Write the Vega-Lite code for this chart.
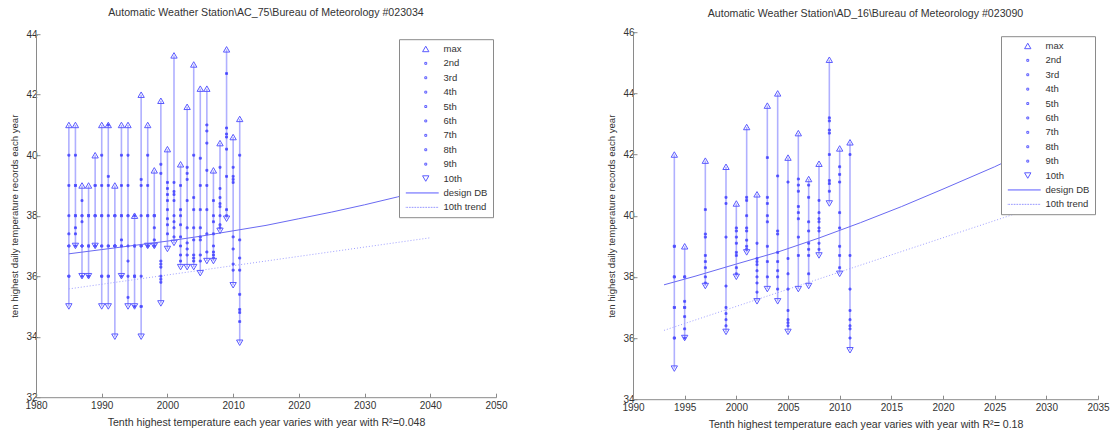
{
  "$schema": "https://vega.github.io/schema/vega-lite/v6.json",
  "padding": {"left": 9, "top": 7, "right": 0, "bottom": 0},
  "background": "white",
  "config": {
    "font": "Liberation Sans",
    "view": {"stroke": null},
    "axis": {"grid": false, "domainColor": "#8a8a8a", "tickColor": "#8a8a8a", "tickSize": -4, "labelFont": "Liberation Sans", "labelFontSize": 10, "labelColor": "#333333", "titleFont": "Liberation Sans", "titleFontSize": 10, "titleFontWeight": "normal", "titleColor": "#333333", "labelPadding": 3},
    "axisX": {"labelFlush": false, "labelPadding": 7, "titlePadding": 7, "titleFontSize": 10.6},
    "axisY": {"titlePadding": 6, "titleFontSize": 9.6},
    "title": {"font": "Liberation Sans", "fontSize": 10.6, "fontWeight": "normal", "color": "#333333"},
    "legend": {"fillColor": "white", "strokeColor": "#8a8a8a", "padding": 5, "labelFont": "Liberation Sans", "labelFontSize": 9.5, "labelColor": "#333333", "symbolStrokeWidth": 1, "symbolStrokeColor": "#5a5aff", "symbolSize": 40, "rowPadding": 3.4, "labelOffset": 13, "symbolOffset": 17}
  },
  "resolve": {"scale": {"shape": "independent"}, "legend": {"shape": "independent"}},
  "spacing": 98,
  "center": true,
  "datasets": {
    "left": [
      {"year":1985,"rank":"max","temp":41},{"year":1985,"rank":"2nd","temp":40},{"year":1985,"rank":"3rd","temp":39},{"year":1985,"rank":"4th","temp":38},{"year":1985,"rank":"5th","temp":37.4},{"year":1985,"rank":"6th","temp":37},{"year":1985,"rank":"7th","temp":37},{"year":1985,"rank":"8th","temp":36},{"year":1985,"rank":"9th","temp":36},{"year":1985,"rank":"10th","temp":35},
      {"year":1986,"rank":"max","temp":41},{"year":1986,"rank":"2nd","temp":40},{"year":1986,"rank":"3rd","temp":39},{"year":1986,"rank":"4th","temp":39},{"year":1986,"rank":"5th","temp":38},{"year":1986,"rank":"6th","temp":38},{"year":1986,"rank":"7th","temp":37.6},{"year":1986,"rank":"8th","temp":37.4},{"year":1986,"rank":"9th","temp":37},{"year":1986,"rank":"10th","temp":37},
      {"year":1987,"rank":"max","temp":39},{"year":1987,"rank":"2nd","temp":38.5},{"year":1987,"rank":"3rd","temp":38},{"year":1987,"rank":"4th","temp":38},{"year":1987,"rank":"5th","temp":37.8},{"year":1987,"rank":"6th","temp":37},{"year":1987,"rank":"7th","temp":37},{"year":1987,"rank":"8th","temp":37},{"year":1987,"rank":"9th","temp":36},{"year":1987,"rank":"10th","temp":36},
      {"year":1988,"rank":"max","temp":39},{"year":1988,"rank":"2nd","temp":38},{"year":1988,"rank":"3rd","temp":38},{"year":1988,"rank":"4th","temp":38},{"year":1988,"rank":"5th","temp":37},{"year":1988,"rank":"6th","temp":37},{"year":1988,"rank":"7th","temp":37},{"year":1988,"rank":"8th","temp":36},{"year":1988,"rank":"9th","temp":36},{"year":1988,"rank":"10th","temp":36},
      {"year":1989,"rank":"max","temp":40},{"year":1989,"rank":"2nd","temp":39},{"year":1989,"rank":"3rd","temp":39},{"year":1989,"rank":"4th","temp":38},{"year":1989,"rank":"5th","temp":38},{"year":1989,"rank":"6th","temp":38},{"year":1989,"rank":"7th","temp":37},{"year":1989,"rank":"8th","temp":37},{"year":1989,"rank":"9th","temp":37},{"year":1989,"rank":"10th","temp":37},
      {"year":1990,"rank":"max","temp":41},{"year":1990,"rank":"2nd","temp":40},{"year":1990,"rank":"3rd","temp":39},{"year":1990,"rank":"4th","temp":38},{"year":1990,"rank":"5th","temp":38},{"year":1990,"rank":"6th","temp":37},{"year":1990,"rank":"7th","temp":37},{"year":1990,"rank":"8th","temp":36},{"year":1990,"rank":"9th","temp":36},{"year":1990,"rank":"10th","temp":35},
      {"year":1991,"rank":"max","temp":41},{"year":1991,"rank":"2nd","temp":41},{"year":1991,"rank":"3rd","temp":39.3},{"year":1991,"rank":"4th","temp":39},{"year":1991,"rank":"5th","temp":38},{"year":1991,"rank":"6th","temp":37},{"year":1991,"rank":"7th","temp":37},{"year":1991,"rank":"8th","temp":36},{"year":1991,"rank":"9th","temp":36},{"year":1991,"rank":"10th","temp":35},
      {"year":1992,"rank":"max","temp":39},{"year":1992,"rank":"2nd","temp":38},{"year":1992,"rank":"3rd","temp":38},{"year":1992,"rank":"4th","temp":38},{"year":1992,"rank":"5th","temp":37},{"year":1992,"rank":"6th","temp":37},{"year":1992,"rank":"7th","temp":37},{"year":1992,"rank":"8th","temp":37},{"year":1992,"rank":"9th","temp":37},{"year":1992,"rank":"10th","temp":34},
      {"year":1993,"rank":"max","temp":41},{"year":1993,"rank":"2nd","temp":40},{"year":1993,"rank":"3rd","temp":39},{"year":1993,"rank":"4th","temp":38},{"year":1993,"rank":"5th","temp":38},{"year":1993,"rank":"6th","temp":37.2},{"year":1993,"rank":"7th","temp":37},{"year":1993,"rank":"8th","temp":37},{"year":1993,"rank":"9th","temp":36},{"year":1993,"rank":"10th","temp":36},
      {"year":1994,"rank":"max","temp":41},{"year":1994,"rank":"2nd","temp":40},{"year":1994,"rank":"3rd","temp":39},{"year":1994,"rank":"4th","temp":38},{"year":1994,"rank":"5th","temp":38},{"year":1994,"rank":"6th","temp":37},{"year":1994,"rank":"7th","temp":36.5},{"year":1994,"rank":"8th","temp":36},{"year":1994,"rank":"9th","temp":35.3},{"year":1994,"rank":"10th","temp":35},
      {"year":1995,"rank":"max","temp":38},{"year":1995,"rank":"2nd","temp":38},{"year":1995,"rank":"3rd","temp":37},{"year":1995,"rank":"4th","temp":37},{"year":1995,"rank":"5th","temp":37},{"year":1995,"rank":"6th","temp":36},{"year":1995,"rank":"7th","temp":36},{"year":1995,"rank":"8th","temp":36},{"year":1995,"rank":"9th","temp":35},{"year":1995,"rank":"10th","temp":35},
      {"year":1996,"rank":"max","temp":42},{"year":1996,"rank":"2nd","temp":39.2},{"year":1996,"rank":"3rd","temp":39},{"year":1996,"rank":"4th","temp":38},{"year":1996,"rank":"5th","temp":37},{"year":1996,"rank":"6th","temp":37},{"year":1996,"rank":"7th","temp":36},{"year":1996,"rank":"8th","temp":35},{"year":1996,"rank":"9th","temp":35},{"year":1996,"rank":"10th","temp":34},
      {"year":1997,"rank":"max","temp":41},{"year":1997,"rank":"2nd","temp":40},{"year":1997,"rank":"3rd","temp":39},{"year":1997,"rank":"4th","temp":38},{"year":1997,"rank":"5th","temp":38},{"year":1997,"rank":"6th","temp":37},{"year":1997,"rank":"7th","temp":37},{"year":1997,"rank":"8th","temp":37},{"year":1997,"rank":"9th","temp":37},{"year":1997,"rank":"10th","temp":37},
      {"year":1998,"rank":"max","temp":39.5},{"year":1998,"rank":"2nd","temp":38},{"year":1998,"rank":"3rd","temp":38},{"year":1998,"rank":"4th","temp":38},{"year":1998,"rank":"5th","temp":37.6},{"year":1998,"rank":"6th","temp":37.2},{"year":1998,"rank":"7th","temp":37},{"year":1998,"rank":"8th","temp":37},{"year":1998,"rank":"9th","temp":37},{"year":1998,"rank":"10th","temp":37},
      {"year":1999,"rank":"max","temp":41.8},{"year":1999,"rank":"2nd","temp":39.7},{"year":1999,"rank":"3rd","temp":39.4},{"year":1999,"rank":"4th","temp":36.5},{"year":1999,"rank":"5th","temp":36.4},{"year":1999,"rank":"6th","temp":36.3},{"year":1999,"rank":"7th","temp":36.0},{"year":1999,"rank":"8th","temp":35.9},{"year":1999,"rank":"9th","temp":35.8},{"year":1999,"rank":"10th","temp":35.1},
      {"year":2000,"rank":"max","temp":40.2},{"year":2000,"rank":"2nd","temp":39.1},{"year":2000,"rank":"3rd","temp":38.9},{"year":2000,"rank":"4th","temp":38.7},{"year":2000,"rank":"5th","temp":38.5},{"year":2000,"rank":"6th","temp":38.2},{"year":2000,"rank":"7th","temp":37.9},{"year":2000,"rank":"8th","temp":37.7},{"year":2000,"rank":"9th","temp":37.4},{"year":2000,"rank":"10th","temp":36.9},
      {"year":2001,"rank":"max","temp":43.3},{"year":2001,"rank":"2nd","temp":39.1},{"year":2001,"rank":"3rd","temp":38.8},{"year":2001,"rank":"4th","temp":38.7},{"year":2001,"rank":"5th","temp":38.5},{"year":2001,"rank":"6th","temp":38.0},{"year":2001,"rank":"7th","temp":37.8},{"year":2001,"rank":"8th","temp":37.6},{"year":2001,"rank":"9th","temp":37.3},{"year":2001,"rank":"10th","temp":37.1},
      {"year":2002,"rank":"max","temp":39.7},{"year":2002,"rank":"2nd","temp":39.0},{"year":2002,"rank":"3rd","temp":38.2},{"year":2002,"rank":"4th","temp":38.0},{"year":2002,"rank":"5th","temp":37.7},{"year":2002,"rank":"6th","temp":37.3},{"year":2002,"rank":"7th","temp":37.0},{"year":2002,"rank":"8th","temp":36.7},{"year":2002,"rank":"9th","temp":36.5},{"year":2002,"rank":"10th","temp":36.3},
      {"year":2003,"rank":"max","temp":41.6},{"year":2003,"rank":"2nd","temp":39.6},{"year":2003,"rank":"3rd","temp":39.4},{"year":2003,"rank":"4th","temp":39.2},{"year":2003,"rank":"5th","temp":38.5},{"year":2003,"rank":"6th","temp":37.6},{"year":2003,"rank":"7th","temp":37.1},{"year":2003,"rank":"8th","temp":36.9},{"year":2003,"rank":"9th","temp":36.7},{"year":2003,"rank":"10th","temp":36.3},
      {"year":2004,"rank":"max","temp":43.0},{"year":2004,"rank":"2nd","temp":40.0},{"year":2004,"rank":"3rd","temp":38.6},{"year":2004,"rank":"4th","temp":38.2},{"year":2004,"rank":"5th","temp":37.6},{"year":2004,"rank":"6th","temp":37.2},{"year":2004,"rank":"7th","temp":36.7},{"year":2004,"rank":"8th","temp":36.6},{"year":2004,"rank":"9th","temp":36.5},{"year":2004,"rank":"10th","temp":36.3},
      {"year":2005,"rank":"max","temp":42.2},{"year":2005,"rank":"2nd","temp":39.9},{"year":2005,"rank":"3rd","temp":39.0},{"year":2005,"rank":"4th","temp":38.2},{"year":2005,"rank":"5th","temp":37.6},{"year":2005,"rank":"6th","temp":37.3},{"year":2005,"rank":"7th","temp":37.2},{"year":2005,"rank":"8th","temp":36.7},{"year":2005,"rank":"9th","temp":36.5},{"year":2005,"rank":"10th","temp":36.1},
      {"year":2006,"rank":"max","temp":42.2},{"year":2006,"rank":"2nd","temp":41.0},{"year":2006,"rank":"3rd","temp":40.8},{"year":2006,"rank":"4th","temp":40.4},{"year":2006,"rank":"5th","temp":39.5},{"year":2006,"rank":"6th","temp":39.0},{"year":2006,"rank":"7th","temp":38.2},{"year":2006,"rank":"8th","temp":37.4},{"year":2006,"rank":"9th","temp":36.8},{"year":2006,"rank":"10th","temp":36.5},
      {"year":2007,"rank":"max","temp":39.5},{"year":2007,"rank":"2nd","temp":38.5},{"year":2007,"rank":"3rd","temp":38.0},{"year":2007,"rank":"4th","temp":37.8},{"year":2007,"rank":"5th","temp":37.4},{"year":2007,"rank":"6th","temp":37.0},{"year":2007,"rank":"7th","temp":36.8},{"year":2007,"rank":"8th","temp":36.7},{"year":2007,"rank":"9th","temp":36.6},{"year":2007,"rank":"10th","temp":36.5},
      {"year":2008,"rank":"max","temp":40.4},{"year":2008,"rank":"2nd","temp":39.6},{"year":2008,"rank":"3rd","temp":38.9},{"year":2008,"rank":"4th","temp":38.6},{"year":2008,"rank":"5th","temp":38.4},{"year":2008,"rank":"6th","temp":38.3},{"year":2008,"rank":"7th","temp":38.0},{"year":2008,"rank":"8th","temp":37.7},{"year":2008,"rank":"9th","temp":37.6},{"year":2008,"rank":"10th","temp":37.5},
      {"year":2009,"rank":"max","temp":43.5},{"year":2009,"rank":"2nd","temp":42.7},{"year":2009,"rank":"3rd","temp":40.9},{"year":2009,"rank":"4th","temp":40.7},{"year":2009,"rank":"5th","temp":40.6},{"year":2009,"rank":"6th","temp":40.2},{"year":2009,"rank":"7th","temp":39.3},{"year":2009,"rank":"8th","temp":38.2},{"year":2009,"rank":"9th","temp":38.0},{"year":2009,"rank":"10th","temp":37.9},
      {"year":2010,"rank":"max","temp":40.6},{"year":2010,"rank":"2nd","temp":39.6},{"year":2010,"rank":"3rd","temp":39.3},{"year":2010,"rank":"4th","temp":39.2},{"year":2010,"rank":"5th","temp":39.1},{"year":2010,"rank":"6th","temp":37.3},{"year":2010,"rank":"7th","temp":36.9},{"year":2010,"rank":"8th","temp":36.4},{"year":2010,"rank":"9th","temp":36.2},{"year":2010,"rank":"10th","temp":35.7},
      {"year":2011,"rank":"max","temp":41.2},{"year":2011,"rank":"2nd","temp":40.0},{"year":2011,"rank":"3rd","temp":37.2},{"year":2011,"rank":"4th","temp":36.6},{"year":2011,"rank":"5th","temp":36.2},{"year":2011,"rank":"6th","temp":35.4},{"year":2011,"rank":"7th","temp":34.9},{"year":2011,"rank":"8th","temp":34.8},{"year":2011,"rank":"9th","temp":34.5},{"year":2011,"rank":"10th","temp":33.8}
    ],
    "right": [
      {"year":1994,"rank":"max","temp":42},{"year":1994,"rank":"2nd","temp":39},{"year":1994,"rank":"3rd","temp":39},{"year":1994,"rank":"4th","temp":38},{"year":1994,"rank":"5th","temp":38},{"year":1994,"rank":"6th","temp":37},{"year":1994,"rank":"7th","temp":37},{"year":1994,"rank":"8th","temp":36},{"year":1994,"rank":"9th","temp":36},{"year":1994,"rank":"10th","temp":35},
      {"year":1995,"rank":"max","temp":39},{"year":1995,"rank":"2nd","temp":38},{"year":1995,"rank":"3rd","temp":38},{"year":1995,"rank":"4th","temp":37.2},{"year":1995,"rank":"5th","temp":37},{"year":1995,"rank":"6th","temp":37},{"year":1995,"rank":"7th","temp":36.7},{"year":1995,"rank":"8th","temp":36.3},{"year":1995,"rank":"9th","temp":36},{"year":1995,"rank":"10th","temp":36},
      {"year":1997,"rank":"max","temp":41.8},{"year":1997,"rank":"2nd","temp":40.2},{"year":1997,"rank":"3rd","temp":39.4},{"year":1997,"rank":"4th","temp":39.3},{"year":1997,"rank":"5th","temp":38.7},{"year":1997,"rank":"6th","temp":38.5},{"year":1997,"rank":"7th","temp":38.3},{"year":1997,"rank":"8th","temp":38.0},{"year":1997,"rank":"9th","temp":37.8},{"year":1997,"rank":"10th","temp":37.7},
      {"year":1999,"rank":"max","temp":41.6},{"year":1999,"rank":"2nd","temp":40.6},{"year":1999,"rank":"3rd","temp":40.4},{"year":1999,"rank":"4th","temp":39.3},{"year":1999,"rank":"5th","temp":37.7},{"year":1999,"rank":"6th","temp":37.0},{"year":1999,"rank":"7th","temp":36.8},{"year":1999,"rank":"8th","temp":36.6},{"year":1999,"rank":"9th","temp":36.4},{"year":1999,"rank":"10th","temp":36.2},
      {"year":2000,"rank":"max","temp":40.4},{"year":2000,"rank":"2nd","temp":39.6},{"year":2000,"rank":"3rd","temp":39.5},{"year":2000,"rank":"4th","temp":39.3},{"year":2000,"rank":"5th","temp":39.1},{"year":2000,"rank":"6th","temp":38.8},{"year":2000,"rank":"7th","temp":38.7},{"year":2000,"rank":"8th","temp":38.3},{"year":2000,"rank":"9th","temp":38.1},{"year":2000,"rank":"10th","temp":38.0},
      {"year":2001,"rank":"max","temp":42.9},{"year":2001,"rank":"2nd","temp":40.6},{"year":2001,"rank":"3rd","temp":40.5},{"year":2001,"rank":"4th","temp":40.0},{"year":2001,"rank":"5th","temp":39.6},{"year":2001,"rank":"6th","temp":39.5},{"year":2001,"rank":"7th","temp":39.2},{"year":2001,"rank":"8th","temp":39.0},{"year":2001,"rank":"9th","temp":38.9},{"year":2001,"rank":"10th","temp":38.8},
      {"year":2002,"rank":"max","temp":40.7},{"year":2002,"rank":"2nd","temp":39.1},{"year":2002,"rank":"3rd","temp":38.6},{"year":2002,"rank":"4th","temp":38.5},{"year":2002,"rank":"5th","temp":38.4},{"year":2002,"rank":"6th","temp":38.2},{"year":2002,"rank":"7th","temp":38.0},{"year":2002,"rank":"8th","temp":37.8},{"year":2002,"rank":"9th","temp":37.5},{"year":2002,"rank":"10th","temp":37.2},
      {"year":2003,"rank":"max","temp":43.6},{"year":2003,"rank":"2nd","temp":41.9},{"year":2003,"rank":"3rd","temp":40.6},{"year":2003,"rank":"4th","temp":40.4},{"year":2003,"rank":"5th","temp":40.0},{"year":2003,"rank":"6th","temp":39.8},{"year":2003,"rank":"7th","temp":39.0},{"year":2003,"rank":"8th","temp":38.5},{"year":2003,"rank":"9th","temp":38.0},{"year":2003,"rank":"10th","temp":37.6},
      {"year":2004,"rank":"max","temp":44.0},{"year":2004,"rank":"2nd","temp":41.3},{"year":2004,"rank":"3rd","temp":39.5},{"year":2004,"rank":"4th","temp":39.4},{"year":2004,"rank":"5th","temp":38.8},{"year":2004,"rank":"6th","temp":38.5},{"year":2004,"rank":"7th","temp":38.2},{"year":2004,"rank":"8th","temp":38.0},{"year":2004,"rank":"9th","temp":37.6},{"year":2004,"rank":"10th","temp":37.2},
      {"year":2005,"rank":"max","temp":41.9},{"year":2005,"rank":"2nd","temp":41.1},{"year":2005,"rank":"3rd","temp":38.6},{"year":2005,"rank":"4th","temp":38.1},{"year":2005,"rank":"5th","temp":37.6},{"year":2005,"rank":"6th","temp":36.9},{"year":2005,"rank":"7th","temp":36.6},{"year":2005,"rank":"8th","temp":36.5},{"year":2005,"rank":"9th","temp":36.4},{"year":2005,"rank":"10th","temp":36.2},
      {"year":2006,"rank":"max","temp":42.7},{"year":2006,"rank":"2nd","temp":41.2},{"year":2006,"rank":"3rd","temp":41.0},{"year":2006,"rank":"4th","temp":40.8},{"year":2006,"rank":"5th","temp":40.3},{"year":2006,"rank":"6th","temp":40.1},{"year":2006,"rank":"7th","temp":39.9},{"year":2006,"rank":"8th","temp":39.3},{"year":2006,"rank":"9th","temp":38.7},{"year":2006,"rank":"10th","temp":37.6},
      {"year":2007,"rank":"max","temp":41.2},{"year":2007,"rank":"2nd","temp":41.0},{"year":2007,"rank":"3rd","temp":40.6},{"year":2007,"rank":"4th","temp":39.8},{"year":2007,"rank":"5th","temp":39.5},{"year":2007,"rank":"6th","temp":39.1},{"year":2007,"rank":"7th","temp":38.9},{"year":2007,"rank":"8th","temp":38.7},{"year":2007,"rank":"9th","temp":38.1},{"year":2007,"rank":"10th","temp":37.7},
      {"year":2008,"rank":"max","temp":41.7},{"year":2008,"rank":"2nd","temp":40.5},{"year":2008,"rank":"3rd","temp":40.1},{"year":2008,"rank":"4th","temp":39.9},{"year":2008,"rank":"5th","temp":39.8},{"year":2008,"rank":"6th","temp":39.6},{"year":2008,"rank":"7th","temp":39.5},{"year":2008,"rank":"8th","temp":39.1},{"year":2008,"rank":"9th","temp":38.9},{"year":2008,"rank":"10th","temp":38.7},
      {"year":2009,"rank":"max","temp":45.1},{"year":2009,"rank":"2nd","temp":43.2},{"year":2009,"rank":"3rd","temp":43.1},{"year":2009,"rank":"4th","temp":42.8},{"year":2009,"rank":"5th","temp":42.7},{"year":2009,"rank":"6th","temp":42.0},{"year":2009,"rank":"7th","temp":41.15},{"year":2009,"rank":"8th","temp":41.05},{"year":2009,"rank":"9th","temp":40.8},{"year":2009,"rank":"10th","temp":40.4},
      {"year":2010,"rank":"max","temp":42.2},{"year":2010,"rank":"2nd","temp":41.6},{"year":2010,"rank":"3rd","temp":41.35},{"year":2010,"rank":"4th","temp":41.1},{"year":2010,"rank":"5th","temp":40.1},{"year":2010,"rank":"6th","temp":39.6},{"year":2010,"rank":"7th","temp":39.0},{"year":2010,"rank":"8th","temp":38.7},{"year":2010,"rank":"9th","temp":38.3},{"year":2010,"rank":"10th","temp":38.1},
      {"year":2011,"rank":"max","temp":42.4},{"year":2011,"rank":"2nd","temp":42.0},{"year":2011,"rank":"3rd","temp":38.7},{"year":2011,"rank":"4th","temp":37.6},{"year":2011,"rank":"5th","temp":36.9},{"year":2011,"rank":"6th","temp":36.6},{"year":2011,"rank":"7th","temp":36.4},{"year":2011,"rank":"8th","temp":36.3},{"year":2011,"rank":"9th","temp":36.0},{"year":2011,"rank":"10th","temp":35.6}
    ],
    "leftLines": [
      {"series":"design DB","year":1985,"temp":36.74},{"series":"design DB","year":1990,"temp":36.88},{"series":"design DB","year":1995,"temp":37.02},{"series":"design DB","year":2000,"temp":37.16},{"series":"design DB","year":2005,"temp":37.32},{"series":"design DB","year":2010,"temp":37.5},{"series":"design DB","year":2015,"temp":37.68},{"series":"design DB","year":2020,"temp":37.9},{"series":"design DB","year":2025,"temp":38.12},{"series":"design DB","year":2030,"temp":38.36},{"series":"design DB","year":2035,"temp":38.62},{"series":"design DB","year":2040,"temp":38.9},
      {"series":"10th trend","year":1985,"temp":35.58},{"series":"10th trend","year":2040,"temp":37.27}
    ],
    "rightLines": [
      {"series":"design DB","year":1993,"temp":37.74},{"series":"design DB","year":1996,"temp":38.02},{"series":"design DB","year":2000,"temp":38.42},{"series":"design DB","year":2004,"temp":38.81},{"series":"design DB","year":2008,"temp":39.27},{"series":"design DB","year":2012,"temp":39.77},{"series":"design DB","year":2016,"temp":40.3},{"series":"design DB","year":2020,"temp":40.87},{"series":"design DB","year":2025,"temp":41.6},{"series":"design DB","year":2030,"temp":42.4},
      {"series":"10th trend","year":1993,"temp":36.25},{"series":"10th trend","year":2030,"temp":40.4}
    ]
  },
  "hconcat": [
    {
      "width": 460,
      "height": 363,
      "title": {"text": "Automatic Weather Station\\AC_75\\Bureau of Meteorology #023034", "offset": 11},
      "layer": [
        {
          "data": {"name": "left"},
          "mark": {"type": "rule", "color": "#b0b0ff", "strokeWidth": 1.6},
          "encoding": {
            "x": {"field": "year", "type": "quantitative", "scale": {"domain": [1980, 2050], "nice": false, "zero": false}, "axis": {"title": "Tenth highest temperature each year varies with year with R²=0.048", "values": [1980, 1990, 2000, 2010, 2020, 2030, 2040, 2050], "format": "d"}},
            "y": {"aggregate": "min", "field": "temp", "type": "quantitative", "scale": {"domain": [32, 44], "nice": false, "zero": false}, "axis": {"title": "ten highest daily temperature records each year", "values": [32, 34, 36, 38, 40, 42, 44]}},
            "y2": {"aggregate": "max", "field": "temp"}
          }
        },
        {
          "data": {"name": "leftLines"},
          "transform": [{"filter": "datum.series === 'design DB'"}],
          "mark": {"type": "line", "color": "#6a6af2", "strokeWidth": 1},
          "encoding": {
            "x": {"field": "year", "type": "quantitative", "scale": {"domain": [1980, 2050], "nice": false, "zero": false}, "axis": {"title": "Tenth highest temperature each year varies with year with R²=0.048", "values": [1980, 1990, 2000, 2010, 2020, 2030, 2040, 2050], "format": "d"}},
            "y": {"field": "temp", "type": "quantitative", "scale": {"domain": [32, 44], "nice": false, "zero": false}, "axis": {"title": "ten highest daily temperature records each year", "values": [32, 34, 36, 38, 40, 42, 44]}}
          }
        },
        {
          "data": {"name": "leftLines"},
          "transform": [{"filter": "datum.series === '10th trend'"}],
          "mark": {"type": "line", "color": "#a0a0ff", "strokeWidth": 1, "strokeDash": [1, 2]},
          "encoding": {
            "x": {"field": "year", "type": "quantitative", "scale": {"domain": [1980, 2050], "nice": false, "zero": false}, "axis": {"title": "Tenth highest temperature each year varies with year with R²=0.048", "values": [1980, 1990, 2000, 2010, 2020, 2030, 2040, 2050], "format": "d"}},
            "y": {"field": "temp", "type": "quantitative", "scale": {"domain": [32, 44], "nice": false, "zero": false}, "axis": {"title": "ten highest daily temperature records each year", "values": [32, 34, 36, 38, 40, 42, 44]}}
          }
        },
        {
          "data": {"name": "left"},
          "mark": {"type": "point", "filled": false, "color": "#5a5aff", "size": 40, "strokeWidth": 1, "opacity": 1},
          "encoding": {
            "x": {"field": "year", "type": "quantitative", "scale": {"domain": [1980, 2050], "nice": false, "zero": false}, "axis": {"title": "Tenth highest temperature each year varies with year with R²=0.048", "values": [1980, 1990, 2000, 2010, 2020, 2030, 2040, 2050], "format": "d"}},
            "y": {"field": "temp", "type": "quantitative", "scale": {"domain": [32, 44], "nice": false, "zero": false}, "axis": {"title": "ten highest daily temperature records each year", "values": [32, 34, 36, 38, 40, 42, 44]}},
            "fill": {"condition": {"test": "datum.rank !== 'max' && datum.rank !== '10th'", "value": "#3c3cff"}, "value": "transparent"},
            "shape": {
              "field": "rank", "type": "nominal",
              "scale": {
                "domain": ["max", "2nd", "3rd", "4th", "5th", "6th", "7th", "8th", "9th", "10th", "design DB", "10th trend"],
                "range": ["triangle-up", "M-0.3,-0.3H0.3V0.3H-0.3Z", "M-0.3,-0.3H0.3V0.3H-0.3Z", "M-0.3,-0.3H0.3V0.3H-0.3Z", "M-0.3,-0.3H0.3V0.3H-0.3Z", "M-0.3,-0.3H0.3V0.3H-0.3Z", "M-0.3,-0.3H0.3V0.3H-0.3Z", "M-0.3,-0.3H0.3V0.3H-0.3Z", "M-0.3,-0.3H0.3V0.3H-0.3Z", "triangle-down", "M-6.3,0H4.1", "M-6.3,0h0.2M-5.8,0h0.2M-5.3,0h0.2M-4.8,0h0.2M-4.3,0h0.2M-3.8,0h0.2M-3.3,0h0.2M-2.8,0h0.2M-2.3,0h0.2M-1.8,0h0.2M-1.3,0h0.2M-0.8,0h0.2M-0.3,0h0.2M0.2,0h0.2M0.7,0h0.2M1.2,0h0.2M1.7,0h0.2M2.2,0h0.2M2.7,0h0.2M3.2,0h0.2M3.7,0h0.2"]
              },
              "legend": {"title": null, "orient": "none", "legendX": 363, "legendY": 5, "encode": {"symbols": {"update": {"stroke": {"value": "#5a5aff"}, "fill": {"value": "transparent"}}}}}
            }
          }
        }
      ]
    },
    {
      "width": 465,
      "height": 367,
      "title": {"text": "Automatic Weather Station\\AD_16\\Bureau of Meteorology #023090", "offset": 8},
      "layer": [
        {
          "data": {"name": "right"},
          "mark": {"type": "rule", "color": "#b0b0ff", "strokeWidth": 1.6},
          "encoding": {
            "x": {"field": "year", "type": "quantitative", "scale": {"domain": [1990, 2035], "nice": false, "zero": false}, "axis": {"title": "Tenth highest temperature each year varies with year with R²= 0.18", "values": [1990, 1995, 2000, 2005, 2010, 2015, 2020, 2025, 2030, 2035], "format": "d"}},
            "y": {"aggregate": "min", "field": "temp", "type": "quantitative", "scale": {"domain": [34, 46], "nice": false, "zero": false}, "axis": {"title": "ten highest daily temperature records each year", "values": [34, 36, 38, 40, 42, 44, 46]}},
            "y2": {"aggregate": "max", "field": "temp"}
          }
        },
        {
          "data": {"name": "rightLines"},
          "transform": [{"filter": "datum.series === 'design DB'"}],
          "mark": {"type": "line", "color": "#6a6af2", "strokeWidth": 1},
          "encoding": {
            "x": {"field": "year", "type": "quantitative", "scale": {"domain": [1990, 2035], "nice": false, "zero": false}, "axis": {"title": "Tenth highest temperature each year varies with year with R²= 0.18", "values": [1990, 1995, 2000, 2005, 2010, 2015, 2020, 2025, 2030, 2035], "format": "d"}},
            "y": {"field": "temp", "type": "quantitative", "scale": {"domain": [34, 46], "nice": false, "zero": false}, "axis": {"title": "ten highest daily temperature records each year", "values": [34, 36, 38, 40, 42, 44, 46]}}
          }
        },
        {
          "data": {"name": "rightLines"},
          "transform": [{"filter": "datum.series === '10th trend'"}],
          "mark": {"type": "line", "color": "#a0a0ff", "strokeWidth": 1, "strokeDash": [1, 2]},
          "encoding": {
            "x": {"field": "year", "type": "quantitative", "scale": {"domain": [1990, 2035], "nice": false, "zero": false}, "axis": {"title": "Tenth highest temperature each year varies with year with R²= 0.18", "values": [1990, 1995, 2000, 2005, 2010, 2015, 2020, 2025, 2030, 2035], "format": "d"}},
            "y": {"field": "temp", "type": "quantitative", "scale": {"domain": [34, 46], "nice": false, "zero": false}, "axis": {"title": "ten highest daily temperature records each year", "values": [34, 36, 38, 40, 42, 44, 46]}}
          }
        },
        {
          "data": {"name": "right"},
          "mark": {"type": "point", "filled": false, "color": "#5a5aff", "size": 40, "strokeWidth": 1, "opacity": 1},
          "encoding": {
            "x": {"field": "year", "type": "quantitative", "scale": {"domain": [1990, 2035], "nice": false, "zero": false}, "axis": {"title": "Tenth highest temperature each year varies with year with R²= 0.18", "values": [1990, 1995, 2000, 2005, 2010, 2015, 2020, 2025, 2030, 2035], "format": "d"}},
            "y": {"field": "temp", "type": "quantitative", "scale": {"domain": [34, 46], "nice": false, "zero": false}, "axis": {"title": "ten highest daily temperature records each year", "values": [34, 36, 38, 40, 42, 44, 46]}},
            "fill": {"condition": {"test": "datum.rank !== 'max' && datum.rank !== '10th'", "value": "#3c3cff"}, "value": "transparent"},
            "shape": {
              "field": "rank", "type": "nominal",
              "scale": {
                "domain": ["max", "2nd", "3rd", "4th", "5th", "6th", "7th", "8th", "9th", "10th", "design DB", "10th trend"],
                "range": ["triangle-up", "M-0.3,-0.3H0.3V0.3H-0.3Z", "M-0.3,-0.3H0.3V0.3H-0.3Z", "M-0.3,-0.3H0.3V0.3H-0.3Z", "M-0.3,-0.3H0.3V0.3H-0.3Z", "M-0.3,-0.3H0.3V0.3H-0.3Z", "M-0.3,-0.3H0.3V0.3H-0.3Z", "M-0.3,-0.3H0.3V0.3H-0.3Z", "M-0.3,-0.3H0.3V0.3H-0.3Z", "triangle-down", "M-6.3,0H4.1", "M-6.3,0h0.2M-5.8,0h0.2M-5.3,0h0.2M-4.8,0h0.2M-4.3,0h0.2M-3.8,0h0.2M-3.3,0h0.2M-2.8,0h0.2M-2.3,0h0.2M-1.8,0h0.2M-1.3,0h0.2M-0.8,0h0.2M-0.3,0h0.2M0.2,0h0.2M0.7,0h0.2M1.2,0h0.2M1.7,0h0.2M2.2,0h0.2M2.7,0h0.2M3.2,0h0.2M3.7,0h0.2"]
              },
              "legend": {"title": null, "orient": "none", "legendX": 368, "legendY": 4, "encode": {"symbols": {"update": {"stroke": {"value": "#5a5aff"}, "fill": {"value": "transparent"}}}}}
            }
          }
        }
      ]
    }
  ]
}
